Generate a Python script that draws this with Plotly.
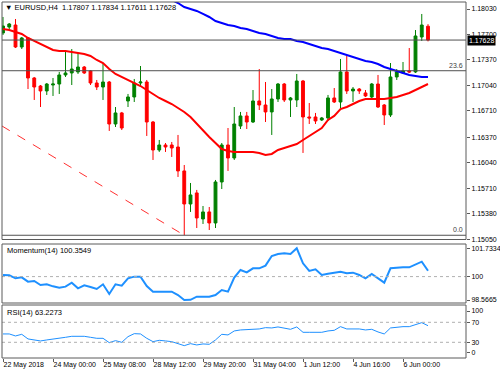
import plotly.graph_objects as go

# ---------------- data ----------------
opens = [1.17720, 1.17797, 1.17823, 1.17538, 1.17655, 1.17137, 1.17033, 1.16969, 1.17046, 1.17059,
         1.17176, 1.17202, 1.17215, 1.17279, 1.17228, 1.17072, 1.17020, 1.17085, 1.16541, 1.16684,
         1.16839, 1.16891, 1.17072, 1.17085, 1.16567, 1.16204, 1.16269, 1.16269, 1.16243, 1.15933,
         1.15505, 1.15648, 1.15311, 1.15402, 1.15259, 1.15790, 1.16269, 1.16101, 1.16515, 1.16645,
         1.16567, 1.16839, 1.16787, 1.16697, 1.16865, 1.17059, 1.16852, 1.16852, 1.17098, 1.16632,
         1.16632, 1.16593, 1.16619, 1.16878, 1.16826, 1.17215, 1.16969, 1.16994, 1.16943, 1.16891,
         1.17059, 1.16787, 1.16658, 1.17150, 1.17202, 1.17228, 1.17215, 1.17668, 1.17807]
highs = [1.17927, 1.17849, 1.17901, 1.17668, 1.17668, 1.17150, 1.17046, 1.17072, 1.17137, 1.17215,
         1.17474, 1.17512, 1.17461, 1.17292, 1.17240, 1.17111, 1.17331, 1.17098, 1.16761, 1.16697,
         1.16930, 1.17124, 1.17292, 1.17111, 1.16580, 1.16334, 1.16295, 1.16308, 1.16399, 1.16010,
         1.15777, 1.15687, 1.15479, 1.15466, 1.15816, 1.16295, 1.16489, 1.16761, 1.16697, 1.16697,
         1.16981, 1.17253, 1.17085, 1.16994, 1.17072, 1.17072, 1.16891, 1.17189, 1.17111, 1.16813,
         1.16684, 1.16632, 1.16917, 1.17007, 1.17383, 1.17422, 1.17020, 1.17007, 1.16981, 1.17072,
         1.17176, 1.16800, 1.17331, 1.17253, 1.17344, 1.17525, 1.17758, 1.17966, 1.17834]
lows = [1.17694, 1.17771, 1.17525, 1.17512, 1.16994, 1.16852, 1.16761, 1.16917, 1.16904, 1.16930,
        1.17150, 1.17046, 1.17189, 1.17189, 1.17046, 1.16981, 1.16852, 1.16451, 1.16502, 1.16463,
        1.16761, 1.16826, 1.17020, 1.16386, 1.16075, 1.16179, 1.16179, 1.16114, 1.15855, 1.15100,
        1.15402, 1.15194, 1.15246, 1.15168, 1.15194, 1.15699, 1.15933, 1.16075, 1.16476, 1.16476,
        1.16554, 1.16722, 1.16567, 1.16399, 1.16826, 1.16826, 1.16632, 1.16761, 1.16166, 1.16541,
        1.16541, 1.16580, 1.16580, 1.16813, 1.16748, 1.16930, 1.16826, 1.16930, 1.16891, 1.16852,
        1.16748, 1.16528, 1.16632, 1.17111, 1.17189, 1.17202, 1.17202, 1.17616, 1.17611]
closes = [1.17810, 1.17836, 1.17538, 1.17655, 1.17137, 1.17020, 1.16969, 1.17059, 1.17059, 1.17176,
          1.17202, 1.17253, 1.17279, 1.17202, 1.17072, 1.17020, 1.17085, 1.16541, 1.16684, 1.16489,
          1.16891, 1.17072, 1.17085, 1.16567, 1.16204, 1.16269, 1.16243, 1.16230, 1.15933, 1.15505,
          1.15622, 1.15324, 1.15402, 1.15259, 1.15790, 1.16269, 1.16101, 1.16541, 1.16645, 1.16567,
          1.16839, 1.16787, 1.16697, 1.16865, 1.17059, 1.16852, 1.16878, 1.17098, 1.16632, 1.16619,
          1.16580, 1.16619, 1.16878, 1.16826, 1.17215, 1.16969, 1.16994, 1.16969, 1.16904, 1.17059,
          1.16761, 1.16658, 1.17150, 1.17215, 1.17228, 1.17215, 1.17681, 1.17823, 1.17628]

ma_red = [1.17771, 1.17758, 1.17733, 1.17707, 1.17655, 1.17616, 1.17577, 1.17538, 1.17500, 1.17487,
          1.17487, 1.17474, 1.17461, 1.17448, 1.17422, 1.17370, 1.17331, 1.17253, 1.17189, 1.17150,
          1.17111, 1.17072, 1.17033, 1.16981, 1.16930, 1.16878, 1.16839, 1.16800, 1.16748, 1.16697,
          1.16632, 1.16541, 1.16463, 1.16373, 1.16295, 1.16217, 1.16192, 1.16179, 1.16179, 1.16179,
          1.16179, 1.16166, 1.16140, 1.16153, 1.16205, 1.16230, 1.16256, 1.16282, 1.16334, 1.16386,
          1.16438, 1.16489, 1.16593, 1.16645, 1.16735, 1.16761, 1.16800, 1.16839, 1.16865, 1.16865,
          1.16865, 1.16865, 1.16878, 1.16891, 1.16917, 1.16943, 1.16981, 1.17020, 1.17059]
ma_blue = [None] * 26 + [
    1.18212, 1.18147, 1.18108, 1.18056, 1.18030, 1.18005, 1.17966, 1.17927, 1.17875, 1.17849,
    1.17823, 1.17810, 1.17784, 1.17771, 1.17746, 1.17720, 1.17707, 1.17681, 1.17655, 1.17642,
    1.17642, 1.17616, 1.17603, 1.17577, 1.17551, 1.17525, 1.17512, 1.17487, 1.17461, 1.17435,
    1.17409, 1.17383, 1.17357, 1.17344, 1.17318, 1.17279, 1.17253, 1.17228, 1.17202, 1.17176,
    1.17163, 1.17150, 1.17150]

momentum = [100.099, 100.079, 99.895, 99.956, 99.690, 99.731, 99.486, 99.527, 99.404, 99.323,
            99.384, 99.629, 99.282, 99.466, 99.364, 99.241, 99.527, 98.935, 99.527, 99.445,
            99.895, 99.997, 99.997, 99.425, 99.078, 99.078, 99.078, 99.078, 98.873, 98.5665,
            98.580, 98.771, 98.771, 98.771, 98.873, 99.180, 99.078, 99.936, 100.405, 100.262,
            100.508, 100.508, 100.671, 101.263, 101.386, 101.427, 101.386, 101.7334, 100.814, 100.344,
            100.446, 100.099, 100.181, 100.262, 100.303, 100.201, 100.242, 100.099, 99.895, 100.160,
            99.895, 99.629, 100.508, 100.548, 100.569, 100.569, 100.753, 100.916, 100.3549]
rsi = [46.7, 46.7, 42.7, 46.0, 36.7, 34.7, 32.7, 34.7, 36.0, 37.3,
       40.0, 42.0, 42.7, 42.0, 40.0, 38.0, 38.0, 29.3, 33.3, 30.0,
       41.3, 47.3, 46.7, 38.0, 31.3, 34.0, 32.7, 31.3, 27.3, 23.3,
       27.3, 24.7, 26.7, 26.0, 34.7, 46.0, 44.7, 52.7, 54.7, 55.3,
       56.0, 56.7, 59.3, 58.7, 60.7, 58.0, 56.0, 60.7, 50.0, 50.0,
       50.0, 50.0, 52.7, 54.0, 61.3, 56.7, 56.7, 56.7, 54.7, 56.0,
       50.7, 46.7, 58.7, 60.7, 61.3, 61.3, 66.0, 69.3, 63.2273]

trend_x = [-0.16, 29]
trend_y = [1.16515, 1.15100]
fib_levels = [1.17231, 1.15100]
fib_labels = ["23.6", "0.0"]

price_ticks = [1.18030, 1.17700, 1.17370, 1.17040, 1.16710, 1.16370, 1.16040, 1.15710, 1.15380, 1.15050]
mom_ticks = [98.5665, 100, 101.7334]
mom_ticktext = ["98.5665", "100", "101.7334"]
rsi_levels = [70, 30]
rsi_tickvals = [92.6, 70, 30, 10]
rsi_ticktext = ["100", "70", "30", "0"]

date_tick_idx = [0, 8, 16, 24, 32, 40, 48, 56, 64]
date_tick_text = ["22 May 2018", "24 May 00:00", "25 May 08:00", "28 May 12:00", "29 May 20:00",
                  "31 May 04:00", "1 Jun 12:00", "4 Jun 16:00", "6 Jun 00:00"]

# ---------------- figure ----------------
W, H = 500, 375
idx = list(range(len(closes)))
FONT = "Liberation Sans"
X0, X1 = 2 / W, 466 / W


def py(p):
    return 1 - p / H


main_dom = [py(239.5), py(2)]
mom_dom = [py(303), py(244)]
rsi_dom = [py(358), py(305)]

fig = go.Figure()

fig.add_trace(go.Scatter(x=trend_x, y=trend_y, mode="lines",
                         line=dict(color="#ff3030", width=1, dash="dash"), yaxis="y", hoverinfo="skip"))
for lv in fib_levels:
    fig.add_shape(type="line", xref="paper", yref="y", x0=X0, x1=X1, y0=lv, y1=lv,
                  line=dict(color="#505050", width=1))
fig.add_shape(type="line", xref="paper", yref="y", x0=X0, x1=X1, y0=closes[-1], y1=closes[-1],
              line=dict(color="#505050", width=1))

fig.add_trace(go.Candlestick(
    x=idx, open=opens, high=highs, low=lows, close=closes,
    increasing=dict(line=dict(color="#008000", width=1), fillcolor="#008000"),
    decreasing=dict(line=dict(color="#ff0000", width=1), fillcolor="#ff0000"),
    whiskerwidth=0, yaxis="y", hoverinfo="skip"))

fig.add_trace(go.Scatter(x=idx, y=ma_blue, mode="lines", line=dict(color="#0000ff", width=2),
                         yaxis="y", hoverinfo="skip"))
fig.add_trace(go.Scatter(x=idx, y=ma_red, mode="lines", line=dict(color="#ff0000", width=2),
                         yaxis="y", hoverinfo="skip"))

fig.add_trace(go.Scatter(x=idx, y=momentum, mode="lines", line=dict(color="#1e90ff", width=2),
                         yaxis="y2", hoverinfo="skip"))
fig.add_trace(go.Scatter(x=idx, y=rsi, mode="lines", line=dict(color="#1e90ff", width=1),
                         yaxis="y3", hoverinfo="skip"))

# dotted indicator levels
fig.add_shape(type="line", xref="paper", yref="y2", x0=X0, x1=X1, y0=100, y1=100,
              line=dict(color="#b0b0b0", width=1, dash="dot"))
for lv in rsi_levels:
    fig.add_shape(type="line", xref="paper", yref="y3", x0=X0, x1=X1, y0=lv, y1=lv,
                  line=dict(color="#b0b0b0", width=1, dash="dot"))

# panel frames
for dom in (main_dom, mom_dom, rsi_dom):
    fig.add_shape(type="rect", xref="paper", yref="paper", x0=X0, x1=X1, y0=dom[0], y1=dom[1],
                  line=dict(color="#5a5a5a", width=1), fillcolor="rgba(0,0,0,0)")

tickfont = dict(family=FONT, size=7, color="#000000")
axis_common = dict(showgrid=False, zeroline=False, showline=False, ticks="outside", ticklen=3,
                   tickcolor="#5a5a5a", tickfont=tickfont, automargin=False, fixedrange=True)

fig.update_layout(
    width=W, height=H, margin=dict(l=0, r=0, t=0, b=0),
    paper_bgcolor="white", plot_bgcolor="white", showlegend=False, boxgap=0.35,
    xaxis=dict(domain=[X0, X1], range=[-0.16, 74.08], anchor="y3", tickmode="array",
               tickvals=date_tick_idx, ticktext=date_tick_text, ticklabelposition="outside right",
               tickangle=0, rangeslider=dict(visible=False), **axis_common),
    yaxis=dict(domain=main_dom, range=[1.15045, 1.18121], anchor="x", side="right",
               tickmode="array", tickvals=price_ticks, ticktext=[f"{v:.5f}" for v in price_ticks],
               **axis_common),
    yaxis2=dict(domain=mom_dom, range=[98.383, 101.997], anchor="x", side="right",
                tickmode="array", tickvals=mom_ticks, ticktext=mom_ticktext, **axis_common),
    yaxis3=dict(domain=rsi_dom, range=[-1.4, 104.6], anchor="x", side="right",
                tickmode="array", tickvals=rsi_tickvals, ticktext=rsi_ticktext, **axis_common),
)

lab = dict(family=FONT, size=7.5, color="#000000")
header = f"\u25bc EURUSD,H4  {opens[-1]:.5f} {highs[-1]:.5f} {lows[-1]:.5f} {closes[-1]:.5f}"
fig.add_annotation(x=3 / W, y=py(8), xref="paper", yref="paper", text=header, showarrow=False,
                   xanchor="left", yanchor="middle", font=lab)
fig.add_annotation(x=5 / W, y=py(250), xref="paper", yref="paper",
                   text=f"Momentum(14) {momentum[-1]:.4f}", showarrow=False,
                   xanchor="left", yanchor="middle", font=lab)
fig.add_annotation(x=5 / W, y=py(312), xref="paper", yref="paper",
                   text=f"RSI(14) {rsi[-1]:.4f}", showarrow=False,
                   xanchor="left", yanchor="middle", font=lab)
for lv, t in zip(fib_levels, fib_labels):
    fig.add_annotation(x=X1 - 1 / W, y=lv, xref="paper", yref="y", text=t, showarrow=False,
                       xanchor="right", yanchor="bottom", font=dict(family=FONT, size=7, color="#404040"))
fig.add_annotation(x=X1 + 1 / W, y=closes[-1], xref="paper", yref="y", text=f"{closes[-1]:.5f}",
                   showarrow=False, xanchor="left", yanchor="middle", bgcolor="#000000",
                   borderpad=1, font=dict(family=FONT, size=7, color="#ffffff"))

fig.write_html(
    "out.html",
    config={"displayModeBar": False, "staticPlot": True},
    post_script="document.body.style.margin='0px';document.body.style.overflow='hidden';",
)
